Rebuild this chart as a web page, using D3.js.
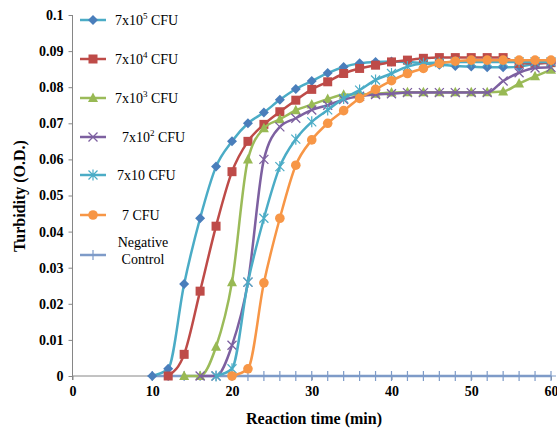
<!DOCTYPE html>
<html>
<head>
<meta charset="utf-8">
<script src="https://d3js.org/d3.v7.min.js"></script>
<style>
    body { margin: 0; background: #fff; }
    #chart { width: 557px; height: 432px; }
    text { font-family: "Liberation Serif", "Times New Roman", serif; fill: #000; }
</style>
</head>
<body>
<div id="chart"></div>
<script>

// reaction time (min), one reading every 2 min
const times = [10, 12, 14, 16, 18, 20, 22, 24, 26, 28, 30, 32, 34, 36, 38, 40, 42, 44, 46, 48, 50, 52, 54, 56, 58, 60];

// turbidity (O.D.) per dilution, null = not plotted yet
const cfu7e5 = [0, 0.002, 0.0255, 0.0437, 0.058, 0.065, 0.070, 0.073, 0.0765, 0.0795, 0.0817, 0.0839, 0.0856, 0.0866, 0.087, 0.0871, 0.087, 0.0866, 0.0862, 0.0859, 0.0857, 0.0855, 0.0855, 0.0857, 0.0865, 0.087];
const cfu7e4 = [null, 0, 0.006, 0.0235, 0.0415, 0.0566, 0.065, 0.0697, 0.0732, 0.0764, 0.0794, 0.0815, 0.0838, 0.0852, 0.0861, 0.087, 0.0875, 0.088, 0.0882, 0.0882, 0.0882, 0.0882, 0.0882, 0.0866, 0.0866, 0.0868];
const cfu7e3 = [null, null, 0, 0, 0.0081, 0.026, 0.060, 0.0686, 0.0711, 0.0736, 0.0752, 0.0767, 0.0779, 0.078, 0.0782, 0.0785, 0.0786, 0.0786, 0.0786, 0.0786, 0.0786, 0.0786, 0.0788, 0.081, 0.083, 0.0848];
const cfu7e2 = [null, null, null, 0, 0, 0.0085, 0.026, 0.060, 0.069, 0.0714, 0.0737, 0.075, 0.0766, 0.0775, 0.078, 0.0782, 0.0785, 0.0785, 0.0785, 0.0785, 0.0785, 0.0785, 0.0817, 0.084, 0.0853, 0.0855];
const cfu7e1 = [null, null, null, null, 0, 0.002, 0.026, 0.0437, 0.058, 0.0656, 0.0704, 0.0737, 0.0769, 0.0792, 0.082, 0.0838, 0.0857, 0.0866, 0.0868, 0.087, 0.087, 0.087, 0.087, 0.087, 0.087, 0.087];
const cfu7 = [null, null, null, null, null, 0, 0.002, 0.0258, 0.0437, 0.0584, 0.0654, 0.070, 0.0735, 0.0769, 0.0794, 0.0818, 0.0838, 0.0852, 0.0866, 0.0872, 0.0875, 0.0875, 0.0875, 0.0875, 0.0875, 0.0875];
const negative = [0, 0, 0, 0, 0, 0, 0, 0, 0, 0, 0, 0, 0, 0, 0, 0, 0, 0, 0, 0, 0, 0, 0, 0, 0, 0];

const seriesNames = ["7x10^5 CFU", "7x10^4 CFU", "7x10^3 CFU", "7x10^2 CFU", "7x10 CFU", "7 CFU", "Negative Control"];

const xTicks = [0, 10, 20, 30, 40, 50, 60];
const yTicks = [0, 0.01, 0.02, 0.03, 0.04, 0.05, 0.06, 0.07, 0.08, 0.09, 0.1];
const yTickLabels = ["0", "0.01", "0.02", "0.03", "0.04", "0.05", "0.06", "0.07", "0.08", "0.09", "0.1"];


class GrowthChart {

    constructor(parentElement) {
        this.parentElement = parentElement

        // styles per series, same order as seriesNames
        this.styles = [
            { values: cfu7e5, line: "#4BACC6", marker: "#4A7EBB", shape: "diamond" },
            { values: cfu7e4, line: "#BE4B48", marker: "#BE4B48", shape: "square" },
            { values: cfu7e3, line: "#9BBB59", marker: "#98B954", shape: "triangle" },
            { values: cfu7e2, line: "#7D60A0", marker: "#7D60A0", shape: "x" },
            { values: cfu7e1, line: "#4BACC6", marker: "#4BACC6", shape: "star" },
            { values: cfu7, line: "#F79646", marker: "#F79646", shape: "circle" },
            { values: negative, line: "#7E9BC8", marker: "#7E9BC8", shape: "plus" }
        ]

        this.initVis()
    }

    initVis() {
        let vis = this

        vis.width = 557
        vis.height = 432

        vis.svg = d3.select("#" + vis.parentElement).append("svg")
            .attr("width", vis.width)
            .attr("height", vis.height)

        // scales
        vis.x = d3.scaleLinear().domain([0, 60]).range([72.5, 551])
        vis.y = d3.scaleLinear().domain([0, 0.1]).range([376, 15])

        // y axis
        vis.yAxis = d3.axisLeft(vis.y)
            .tickValues(yTicks)
            .tickFormat((d, i) => yTickLabels[i])
            .tickSize(4)
            .tickPadding(5)

        vis.svg.append("g")
            .attr("class", "y-axis")
            .attr("transform", "translate(" + vis.x(0) + ",0)")
            .call(vis.yAxis)

        // x axis
        vis.xAxis = d3.axisBottom(vis.x)
            .tickValues(xTicks)
            .tickSize(4)
            .tickPadding(6)

        vis.svg.append("g")
            .attr("class", "x-axis")
            .attr("transform", "translate(0," + vis.y(0) + ")")
            .call(vis.xAxis)

        vis.svg.selectAll(".domain, .tick line")
            .attr("stroke", "#868686")
            .attr("stroke-width", 1)
        vis.svg.selectAll(".x-axis .domain").attr("d", "M" + vis.x(0) + ",0H" + vis.x(60))
        vis.svg.selectAll(".y-axis .domain").attr("d", "M0," + vis.y(0.1) + "V" + (vis.y(0) + 4))

        vis.svg.selectAll(".tick text")
            .attr("font-family", "Liberation Serif, serif")
            .attr("font-weight", "bold")
            .attr("font-size", "14px")
            .attr("fill", "#000")

        // axis titles
        vis.svg.append("text")
            .text("Reaction time (min)")
            .attr("x", 314)
            .attr("y", 424)
            .attr("text-anchor", "middle")
            .attr("font-weight", "bold")
            .attr("font-size", "16px")

        vis.svg.append("text")
            .text("Turbidity (O.D.)")
            .attr("transform", "translate(25,196) rotate(-90)")
            .attr("text-anchor", "middle")
            .attr("font-weight", "bold")
            .attr("font-size", "16px")

        vis.wrangleData()
    }

    wrangleData() {
        let vis = this

        vis.displayData = vis.styles.map((s, i) => ({
            name: seriesNames[i],
            style: s,
            points: times.map((t, j) => ({ t: t, v: s.values[j] })).filter(p => p.v !== null)
        }))

        vis.updateVis()
    }

    drawMarker(g, shape, color) {
        if (shape === "diamond") {
            g.append("path").attr("d", "M0,-5L5,0L0,5L-5,0Z").attr("fill", color)
        } else if (shape === "square") {
            g.append("rect").attr("x", -4.5).attr("y", -4.5).attr("width", 9).attr("height", 9).attr("fill", color)
        } else if (shape === "triangle") {
            g.append("path").attr("d", "M0,-5.5L5,4L-5,4Z").attr("fill", color)
        } else if (shape === "x") {
            g.append("path").attr("d", "M-4.5,-4.5L4.5,4.5M-4.5,4.5L4.5,-4.5")
                .attr("stroke", color).attr("stroke-width", 1.3).attr("fill", "none")
        } else if (shape === "star") {
            g.append("path").attr("d", "M-4.5,-4.5L4.5,4.5M-4.5,4.5L4.5,-4.5M0,-5.5V5.5")
                .attr("stroke", color).attr("stroke-width", 1.2).attr("fill", "none")
        } else if (shape === "circle") {
            g.append("circle").attr("r", 4.8).attr("fill", color)
        } else if (shape === "plus") {
            g.append("path").attr("d", "M0,-5V5M-5,0H5")
                .attr("stroke", color).attr("stroke-width", 1.2).attr("fill", "none")
        }
    }

    updateVis() {
        let vis = this

        vis.line = d3.line()
            .x(d => vis.x(d.t))
            .y(d => vis.y(d.v))
            .curve(d3.curveMonotoneX)

        // negative control underneath, then dilutions in order
        let order = [6, 0, 1, 2, 3, 4, 5]

        order.forEach(i => {
            let d = vis.displayData[i]
            let g = vis.svg.append("g").attr("class", "series")

            g.append("path")
                .attr("d", vis.line(d.points))
                .attr("fill", "none")
                .attr("stroke", d.style.line)
                .attr("stroke-width", 2.5)

            g.selectAll(".pt")
                .data(d.points)
                .enter().append("g")
                .attr("class", "pt")
                .attr("transform", p => "translate(" + vis.x(p.t) + "," + vis.y(p.v) + ")")
                .each(function() { vis.drawMarker(d3.select(this), d.style.shape, d.style.marker) })
        })

        // legend
        let legendY = [20, 59, 98, 137, 175, 215, 255]
        let labelX = [115, 115, 115, 122, 117, 122, 143]

        vis.displayData.forEach((d, i) => {
            let g = vis.svg.append("g")
                .attr("class", "legend-item")
                .attr("transform", "translate(0," + legendY[i] + ")")

            g.append("line")
                .attr("x1", 80).attr("x2", 106)
                .attr("stroke", d.style.line)
                .attr("stroke-width", 2.5)

            let m = g.append("g").attr("transform", "translate(93,0)")
            vis.drawMarker(m, d.style.shape, d.style.marker)

            if (d.name === "Negative Control") {
                let words = d.name.split(" ")
                words.forEach((w, k) => {
                    g.append("text")
                        .text(w)
                        .attr("x", labelX[i])
                        .attr("y", -13 + k * 17 + 5)
                        .attr("text-anchor", "middle")
                        .attr("font-size", "14px")
                })
            } else {
                let txt = g.append("text")
                    .attr("x", labelX[i])
                    .attr("y", 5)
                    .attr("font-size", "14px")
                let parts = d.name.split(/\^(\d)/)
                txt.append("tspan").text(parts[0])
                if (parts.length > 1) {
                    txt.append("tspan").text(parts[1])
                        .attr("font-size", "9px")
                        .attr("dy", -6)
                    txt.append("tspan").text(parts[2])
                        .attr("dy", 6)
                }
            }
        })
    }
}

new GrowthChart("chart")

</script>
</body>
</html>
